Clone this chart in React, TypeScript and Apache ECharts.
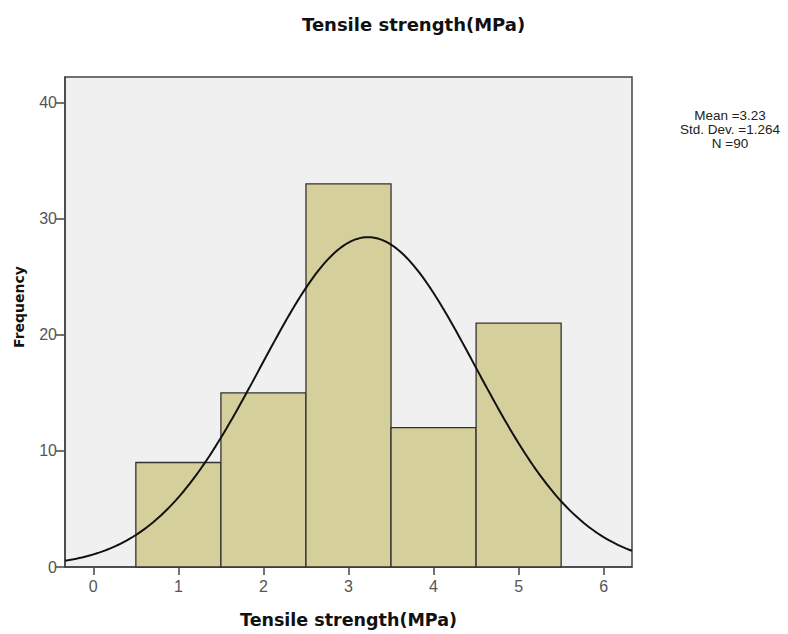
import React, { useEffect, useRef } from "react";
import * as echarts from "echarts";

const binStarts = [0.5, 1.5, 2.5, 3.5, 4.5];
const binEnds = [1.5, 2.5, 3.5, 4.5, 5.5];
const frequencies = [9, 15, 33, 12, 21];
const xTicks = [0, 1, 2, 3, 4, 5, 6];
const yTicks = [0, 10, 20, 30, 40];
const statMean = 3.23;
const statStd = 1.264;
const statN = 90;
const binWidth = 1;
const xRange = [-0.333, 6.333];
const yRange = [0, 42.2];

export default function App() {
  const ref = useRef<HTMLDivElement>(null);
  useEffect(() => {
    document.body.style.margin = "0";
    const chart = echarts.init(ref.current!, null, { renderer: "svg" });
    const curve: number[][] = [];
    const steps = 200;
    for (let i = 0; i <= steps; i++) {
      const x = xRange[0] + ((xRange[1] - xRange[0]) * i) / steps;
      const z = (x - statMean) / statStd;
      const y = (statN * binWidth * Math.exp(-0.5 * z * z)) / (statStd * Math.sqrt(2 * Math.PI));
      curve.push([x, y]);
    }
    const histData = frequencies.map((f, i) => [binStarts[i], binEnds[i], f]);
    chart.setOption({
      animation: false,
      backgroundColor: "#ffffff",
      title: {
        text: "Tensile strength(MPa)",
        left: 297,
        top: 10,
        textStyle: { fontFamily: "DejaVu Sans", fontWeight: "bold", fontSize: 18, color: "#111" },
      },
      grid: {
        left: 65,
        right: 156,
        top: 77,
        bottom: 66,
        show: true,
        backgroundColor: "#f0f0f0",
        borderColor: "#444",
        borderWidth: 1.5,
      },
      xAxis: {
        type: "value",
        min: xRange[0],
        max: xRange[1],
        name: "Tensile strength(MPa)",
        nameLocation: "middle",
        nameGap: 44,
        nameTextStyle: { fontFamily: "DejaVu Sans", fontWeight: "bold", fontSize: 17.5, color: "#111" },
        splitLine: { show: false },
        axisLine: { show: true, onZero: false, lineStyle: { color: "#444", width: 1.5 } },
        axisTick: { show: true, length: 8, customValues: xTicks, lineStyle: { color: "#444", width: 1.5 } },
        axisLabel: {
          customValues: xTicks,
          margin: 11,
          fontFamily: "Liberation Sans",
          fontSize: 16,
          color: "#555",
        },
      },
      yAxis: {
        type: "value",
        min: yRange[0],
        max: yRange[1],
        splitLine: { show: false },
        axisLine: { show: true, onZero: false, lineStyle: { color: "#444", width: 1.5 } },
        axisTick: { show: true, length: 9, customValues: yTicks, lineStyle: { color: "#444", width: 1.5 } },
        axisLabel: {
          customValues: yTicks,
          margin: 8,
          fontFamily: "Liberation Sans",
          fontSize: 16,
          color: "#555",
        },
      },
      graphic: [
        {
          type: "text",
          x: 19,
          y: 307,
          rotation: Math.PI / 2,
          style: {
            text: "Frequency",
            textAlign: "center",
            textVerticalAlign: "middle",
            fontFamily: "DejaVu Sans",
            fontWeight: "bold",
            fontSize: 14,
            fill: "#111",
          },
        },
        {
          type: "text",
          x: 730,
          y: 108,
          style: {
            text: `Mean =${statMean.toFixed(2)}\nStd. Dev. =${statStd.toFixed(3)}\nN =${statN}`,
            textAlign: "center",
            fontFamily: "Liberation Sans",
            fontSize: 13.5,
            lineHeight: 14,
            fill: "#222",
          },
        },
      ],
      series: [
        {
          type: "custom",
          data: histData,
          renderItem: (params: any, api: any) => {
            const p0 = api.coord([api.value(0), api.value(2)]);
            const p1 = api.coord([api.value(1), 0]);
            return {
              type: "rect",
              shape: { x: p0[0], y: p0[1], width: p1[0] - p0[0], height: p1[1] - p0[1] },
              style: { fill: "#d4cf9b", stroke: "#333", lineWidth: 1.3 },
            };
          },
          encode: { x: [0, 1], y: 2 },
          z: 2,
        },
        {
          type: "line",
          data: curve,
          showSymbol: false,
          smooth: false,
          lineStyle: { color: "#111", width: 2 },
          z: 3,
        },
      ],
    });
    return () => chart.dispose();
  }, []);
  return <div ref={ref} style={{ width: 788, height: 634 }} />;
}
